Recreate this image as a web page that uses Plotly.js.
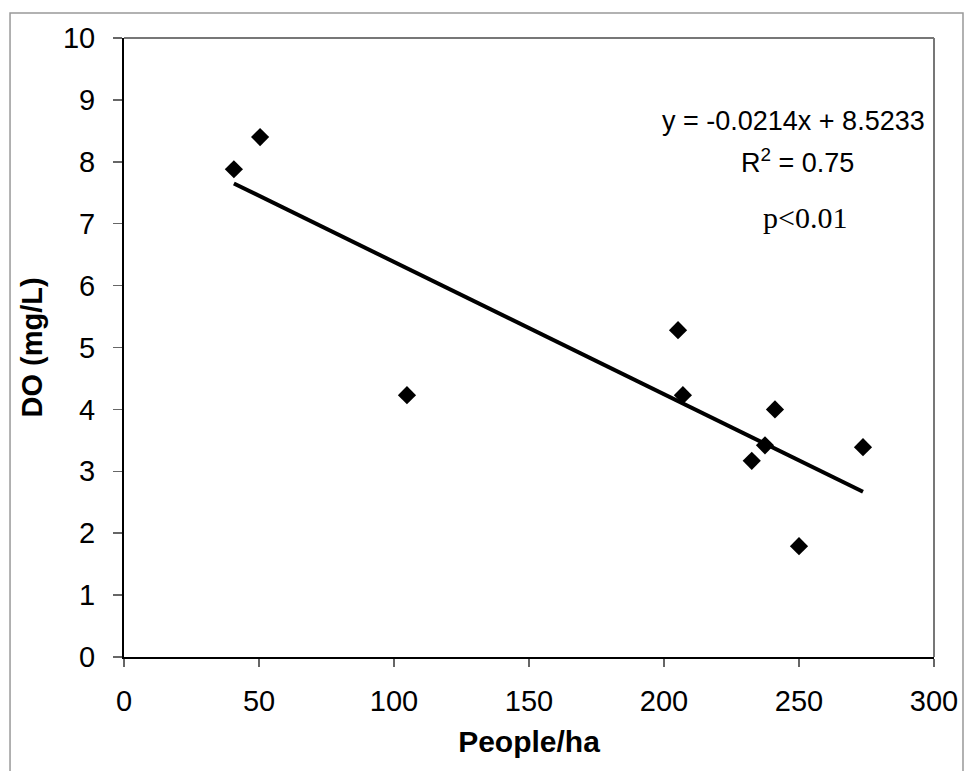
<!DOCTYPE html>
<html>
<head>
<meta charset="utf-8">
<script src="https://cdn.plot.ly/plotly-3.0.1.min.js"></script>
<style>html,body{margin:0;padding:0;background:#fff;}#chart{width:966px;height:771px;}</style>
</head>
<body>
<div id="chart"></div>
<script>
// Observed data: population density vs dissolved oxygen
var peoplePerHa = [40.7, 50.4, 104.8, 205.2, 207.0, 241.1, 237.4, 232.5, 273.7, 250.0];
var doMgL       = [7.88, 8.40, 4.23, 5.28, 4.23, 4.00, 3.42, 3.17, 3.39, 1.79];
// Linear trend line endpoints (from y = -0.0214x + 8.5233)
var trendX = [40.7, 273.7];
var trendY = [7.65, 2.67];
var xTicks = [0, 50, 100, 150, 200, 250, 300];
var yTicks = [0, 1, 2, 3, 4, 5, 6, 7, 8, 9, 10];
var eqText = "y = -0.0214x + 8.5233";
var r2Text = "R<sup>2</sup> = 0.75";
var pText = "p<0.01";

var traces = [
  {
    x: peoplePerHa, y: doMgL, type: 'scatter', mode: 'markers',
    marker: {symbol: 'diamond', size: 14, color: '#000'},
    showlegend: false, hoverinfo: 'x+y'
  },
  {
    x: trendX, y: trendY, type: 'scatter', mode: 'lines',
    line: {color: '#000', width: 4},
    showlegend: false, hoverinfo: 'skip'
  }
];

var sans = 'Liberation Sans, Arial, sans-serif';
var layout = {
  width: 966, height: 771,
  margin: {l: 124, r: 32, t: 38, b: 114},
  paper_bgcolor: '#fff', plot_bgcolor: '#fff',
  font: {family: sans, color: '#000'},
  xaxis: {
    range: [0, 300], tickvals: xTicks, ticktext: xTicks.map(String),
    showgrid: false, zeroline: false,
    showline: true, linecolor: '#000', linewidth: 2,
    ticks: 'outside', ticklen: 8, tickcolor: '#666', tickwidth: 1.5,
    tickfont: {size: 29, family: sans},
    ticklabelstandoff: 9,
    title: {text: '<b>People/ha</b>', font: {size: 30, family: sans}, standoff: 15}
  },
  yaxis: {
    range: [0, 10], tickvals: yTicks, ticktext: yTicks.map(String),
    showgrid: false, zeroline: false,
    showline: true, linecolor: '#000', linewidth: 2,
    ticks: 'outside', ticklen: 9, tickcolor: '#666', tickwidth: 1.5,
    tickfont: {size: 29, family: sans},
    ticklabelstandoff: 12,
    title: {text: '<b>DO (mg/L)</b>', font: {size: 29, family: sans}, standoff: 12}
  },
  shapes: [
    {type: 'line', xref: 'paper', yref: 'paper', x0: 0, x1: 1, y0: 1, y1: 1, line: {color: '#777', width: 2}},
    {type: 'line', xref: 'paper', yref: 'paper', x0: 1, x1: 1, y0: 0, y1: 1, line: {color: '#777', width: 2}},
    {type: 'rect', xref: 'paper', yref: 'paper', x0: -0.1407, x1: 1.0358, y0: -0.2, y1: 1.0404, line: {color: '#999', width: 1.5}}
  ],
  annotations: [
    {xref: 'paper', yref: 'paper', x: (793 - 124) / 810, y: (657 - 121) / 619, text: eqText, showarrow: false,
     xanchor: 'center', yanchor: 'middle', font: {size: 27, family: sans}},
    {xref: 'paper', yref: 'paper', x: (797 - 124) / 810, y: (657 - 161) / 619, text: r2Text, showarrow: false,
     xanchor: 'center', yanchor: 'middle', font: {size: 27, family: sans}},
    {xref: 'paper', yref: 'paper', x: (805 - 124) / 810, y: (657 - 218) / 619, text: pText, showarrow: false,
     xanchor: 'center', yanchor: 'middle', font: {size: 30, family: 'Liberation Serif, Times New Roman, serif'}}
  ]
};

Plotly.newPlot('chart', traces, layout, {displayModeBar: false, staticPlot: true});
</script>
</body>
</html>
